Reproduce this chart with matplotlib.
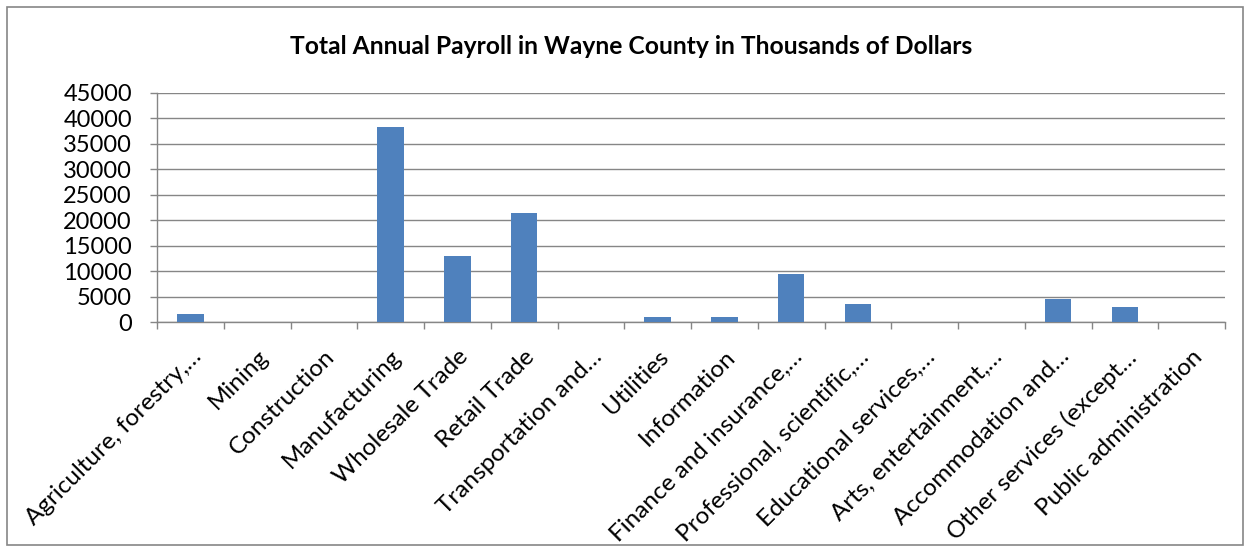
import matplotlib
matplotlib.use("Agg")
import matplotlib.pyplot as plt
from matplotlib.patches import Rectangle

categories = [
    "Agriculture, forestry,…", "Mining", "Construction", "Manufacturing",
    "Wholesale Trade", "Retail Trade", "Transportation and…", "Utilities",
    "Information", "Finance and insurance,…", "Professional, scientific,…",
    "Educational services,…", "Arts, entertainment,…", "Accommodation and…",
    "Other services (except…", "Public administration",
]
payroll = [1700, 0, 0, 38200, 13000, 21400, 0, 1100,
           1000, 9500, 3650, 0, 0, 4600, 3050, 0]
y_ticks = [0, 5000, 10000, 15000, 20000, 25000, 30000, 35000, 40000, 45000]
title = "Total Annual Payroll in Wayne County in Thousands of Dollars"

plt.rcParams["font.family"] = ["Lato", "DejaVu Sans"]
GRID = "#868686"
BAR = "#4F81BD"

fig = plt.figure(figsize=(12.5, 5.52), dpi=100)
fig.patch.set_facecolor("white")

# chart border
fig.patches.append(Rectangle((7 / 1250, 7 / 552), 1236 / 1250, 538 / 552,
                             transform=fig.transFigure, fill=False,
                             edgecolor=GRID, linewidth=1.2))

ax = fig.add_axes([157 / 1250, 1 - 322.3 / 552, (1225 - 157) / 1250, (322.3 - 92.7) / 552])
x = list(range(len(categories)))
ax.bar(x, payroll, width=0.4, color=BAR, linewidth=0, zorder=3)

ax.set_xlim(-0.5, len(categories) - 0.5)
ax.set_ylim(0, 45000)
ax.set_yticks(y_ticks)
ax.set_yticklabels([str(v) for v in y_ticks])
ax.yaxis.grid(True, color=GRID, linewidth=1.0, zorder=0)
ax.set_axisbelow(True)

# category boundaries carry tick marks, centres carry the labels
ax.set_xticks([i - 0.5 for i in range(len(categories) + 1)])
ax.set_xticklabels([])
ax.set_xticks(x, minor=True)
ax.set_xticklabels(categories, minor=True, rotation=45, ha="right", va="top",
                   rotation_mode="anchor", fontsize=17.5)
ax.tick_params(axis="x", which="major", length=5, width=1.0, color=GRID, direction="out")
ax.tick_params(axis="x", which="minor", length=0, pad=17)
ax.tick_params(axis="y", length=5, width=1.0, color=GRID, pad=13, labelsize=17)

for side in ("top", "right"):
    ax.spines[side].set_visible(False)
for side in ("left", "bottom"):
    ax.spines[side].set_color(GRID)
    ax.spines[side].set_linewidth(1.0)

fig.text(631 / 1250, 1 - 46 / 552, title, ha="center", va="center",
         fontsize=17.7, fontweight="bold")

fig.savefig("out.png", dpi=100, facecolor="white")
